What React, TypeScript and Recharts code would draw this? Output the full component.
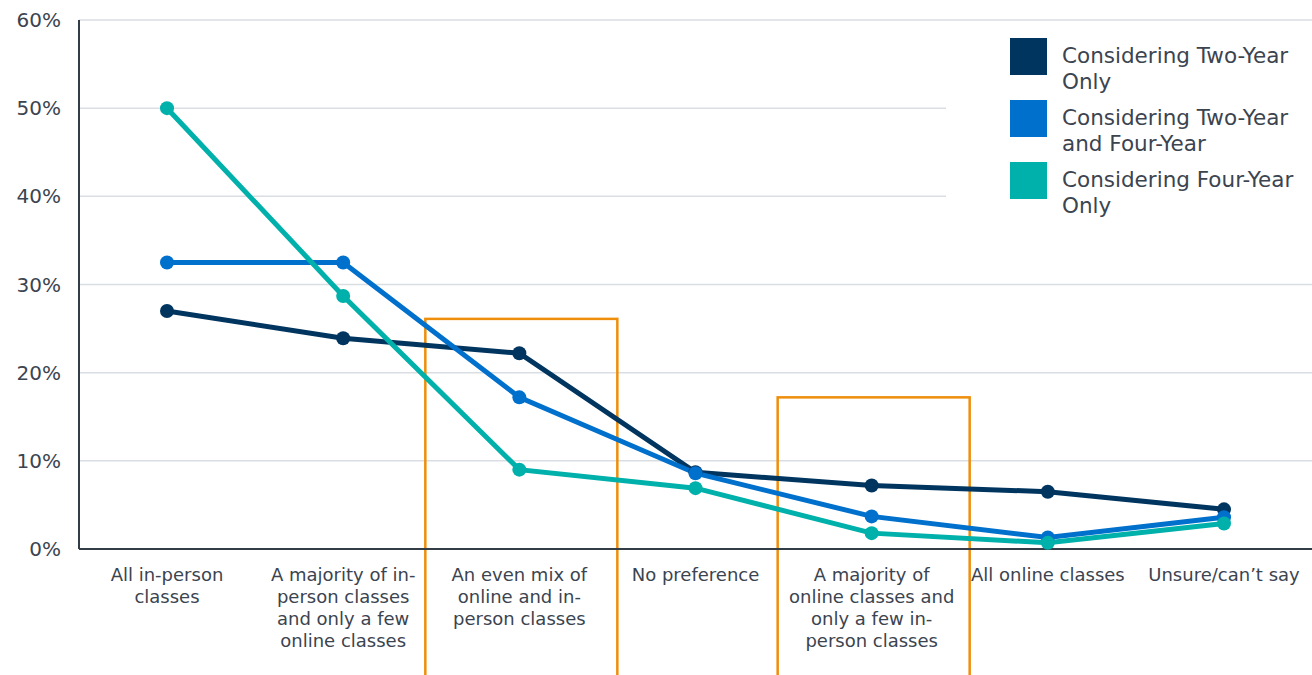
import React from 'react';
import { LineChart, Line, XAxis, YAxis, CartesianGrid, ReferenceArea } from 'recharts';

const categories = [
  'All in-person classes',
  'A majority of in-person classes and only a few online classes',
  'An even mix of online and in-person classes',
  'No preference',
  'A majority of online classes and only a few in-person classes',
  'All online classes',
  'Unsure/can’t say',
];

const tickLines: string[][] = [
  ['All in-person', 'classes'],
  ['A majority of in-', 'person classes', 'and only a few', 'online classes'],
  ['An even mix of', 'online and in-', 'person classes'],
  ['No preference'],
  ['A majority of', 'online classes and', 'only a few in-', 'person classes'],
  ['All online classes'],
  ['Unsure/can’t say'],
];

const twoYearOnly = [27.0, 23.9, 22.2, 8.7, 7.2, 6.5, 4.5];
const twoAndFour = [32.5, 32.5, 17.2, 8.6, 3.7, 1.3, 3.6];
const fourYearOnly = [50.0, 28.7, 9.0, 6.9, 1.8, 0.7, 2.9];

const yTicks = [0, 10, 20, 30, 40, 50, 60];

const seriesNames = [
  'Considering Two-Year Only',
  'Considering Two-Year and Four-Year',
  'Considering Four-Year Only',
];
const legendLines = [
  ['Considering Two-Year', 'Only'],
  ['Considering Two-Year', 'and Four-Year'],
  ['Considering Four-Year', 'Only'],
];
const colors = ['#00355F', '#0070CD', '#00B0AA'];

// highlighted categories: [category, box top value]
const highlights: [string, number][] = [
  [categories[2], 26.1],
  [categories[4], 17.2],
];

const data = categories.map((c, i) => ({
  name: c,
  s0: twoYearOnly[i],
  s1: twoAndFour[i],
  s2: fourYearOnly[i],
}));

const FONT = '"DejaVu Sans", Verdana, sans-serif';
const TEXT = '#3B444F';

const XTick = (props: any) => {
  const { x, y, payload } = props;
  const idx = categories.indexOf(payload.value);
  const lines = tickLines[idx] || [payload.value];
  return (
    <text x={x} y={y} textAnchor="middle" fill={TEXT} fontSize={18} fontFamily={FONT}>
      {lines.map((l, i) => (
        <tspan key={i} x={x} dy={i === 0 ? 24 : 22}>
          {l}
        </tspan>
      ))}
    </text>
  );
};

const LegendBox = () => (
  <div
    style={{
      position: 'absolute',
      left: 946,
      top: 22,
      width: 366,
      height: 203,
      background: '#fff',
      paddingTop: 16,
      boxSizing: 'border-box',
    }}
  >
    {seriesNames.map((n, i) => (
      <div key={n} style={{ display: 'flex', alignItems: 'flex-start', height: 62 }}>
        <div style={{ width: 37, height: 37, background: colors[i], marginLeft: 64, marginRight: 15, flexShrink: 0 }} />
        <div style={{ fontFamily: FONT, fontSize: 21.5, color: TEXT, lineHeight: '26px', marginTop: 5, whiteSpace: 'nowrap' }}>
          {legendLines[i].map((l, j) => (
            <div key={j}>{l}</div>
          ))}
        </div>
      </div>
    ))}
  </div>
);

const BoxShape = (props: any) => {
  const { x, y, width, height } = props;
  const cx = x + width / 2;
  return (
    <rect x={cx - 94} y={y} width={192} height={height} fill="none" stroke="#EE8E0A" strokeWidth={2.5} />
  );
};

export default function App() {
  return (
    <div style={{ position: 'absolute', left: 0, top: 0, width: 1312, height: 675, background: '#fff' }}>
      <LineChart width={1312} height={675} data={data} margin={{ top: 20, right: 0, bottom: 0, left: 0 }}>
        <CartesianGrid horizontal vertical={false} stroke="#D9DEE3" strokeWidth={1.5} />
        <XAxis
          dataKey="name"
          interval={0}
          height={126}
          padding={{ left: 88, right: 88 }}
          tickLine={false}
          axisLine={{ stroke: '#333D47', strokeWidth: 2 }}
          tick={<XTick />}
        />
        <YAxis
          width={79}
          domain={[0, 60]}
          ticks={yTicks}
          tickFormatter={(v: number) => `${v}%`}
          tickLine={false}
          axisLine={{ stroke: '#333D47', strokeWidth: 2 }}
          tick={{ fill: TEXT, fontSize: 20, fontFamily: FONT, dx: -10 }}
        />
        {['s0', 's1', 's2'].map((k, i) => (
          <Line
            key={k}
            type="linear"
            dataKey={k}
            name={seriesNames[i]}
            stroke={colors[i]}
            strokeWidth={5}
            dot={{ r: 7, fill: colors[i], stroke: colors[i], strokeWidth: 0 }}
            isAnimationActive={false}
          />
        ))}
        {highlights.map(([c, top], i) => (
          <ReferenceArea
            key={i}
            x1={c}
            x2={c}
            y1={top}
            y2={-14.5}
            ifOverflow="visible"
            shape={<BoxShape />}
          />
        ))}
      </LineChart>
      <LegendBox />
    </div>
  );
}
